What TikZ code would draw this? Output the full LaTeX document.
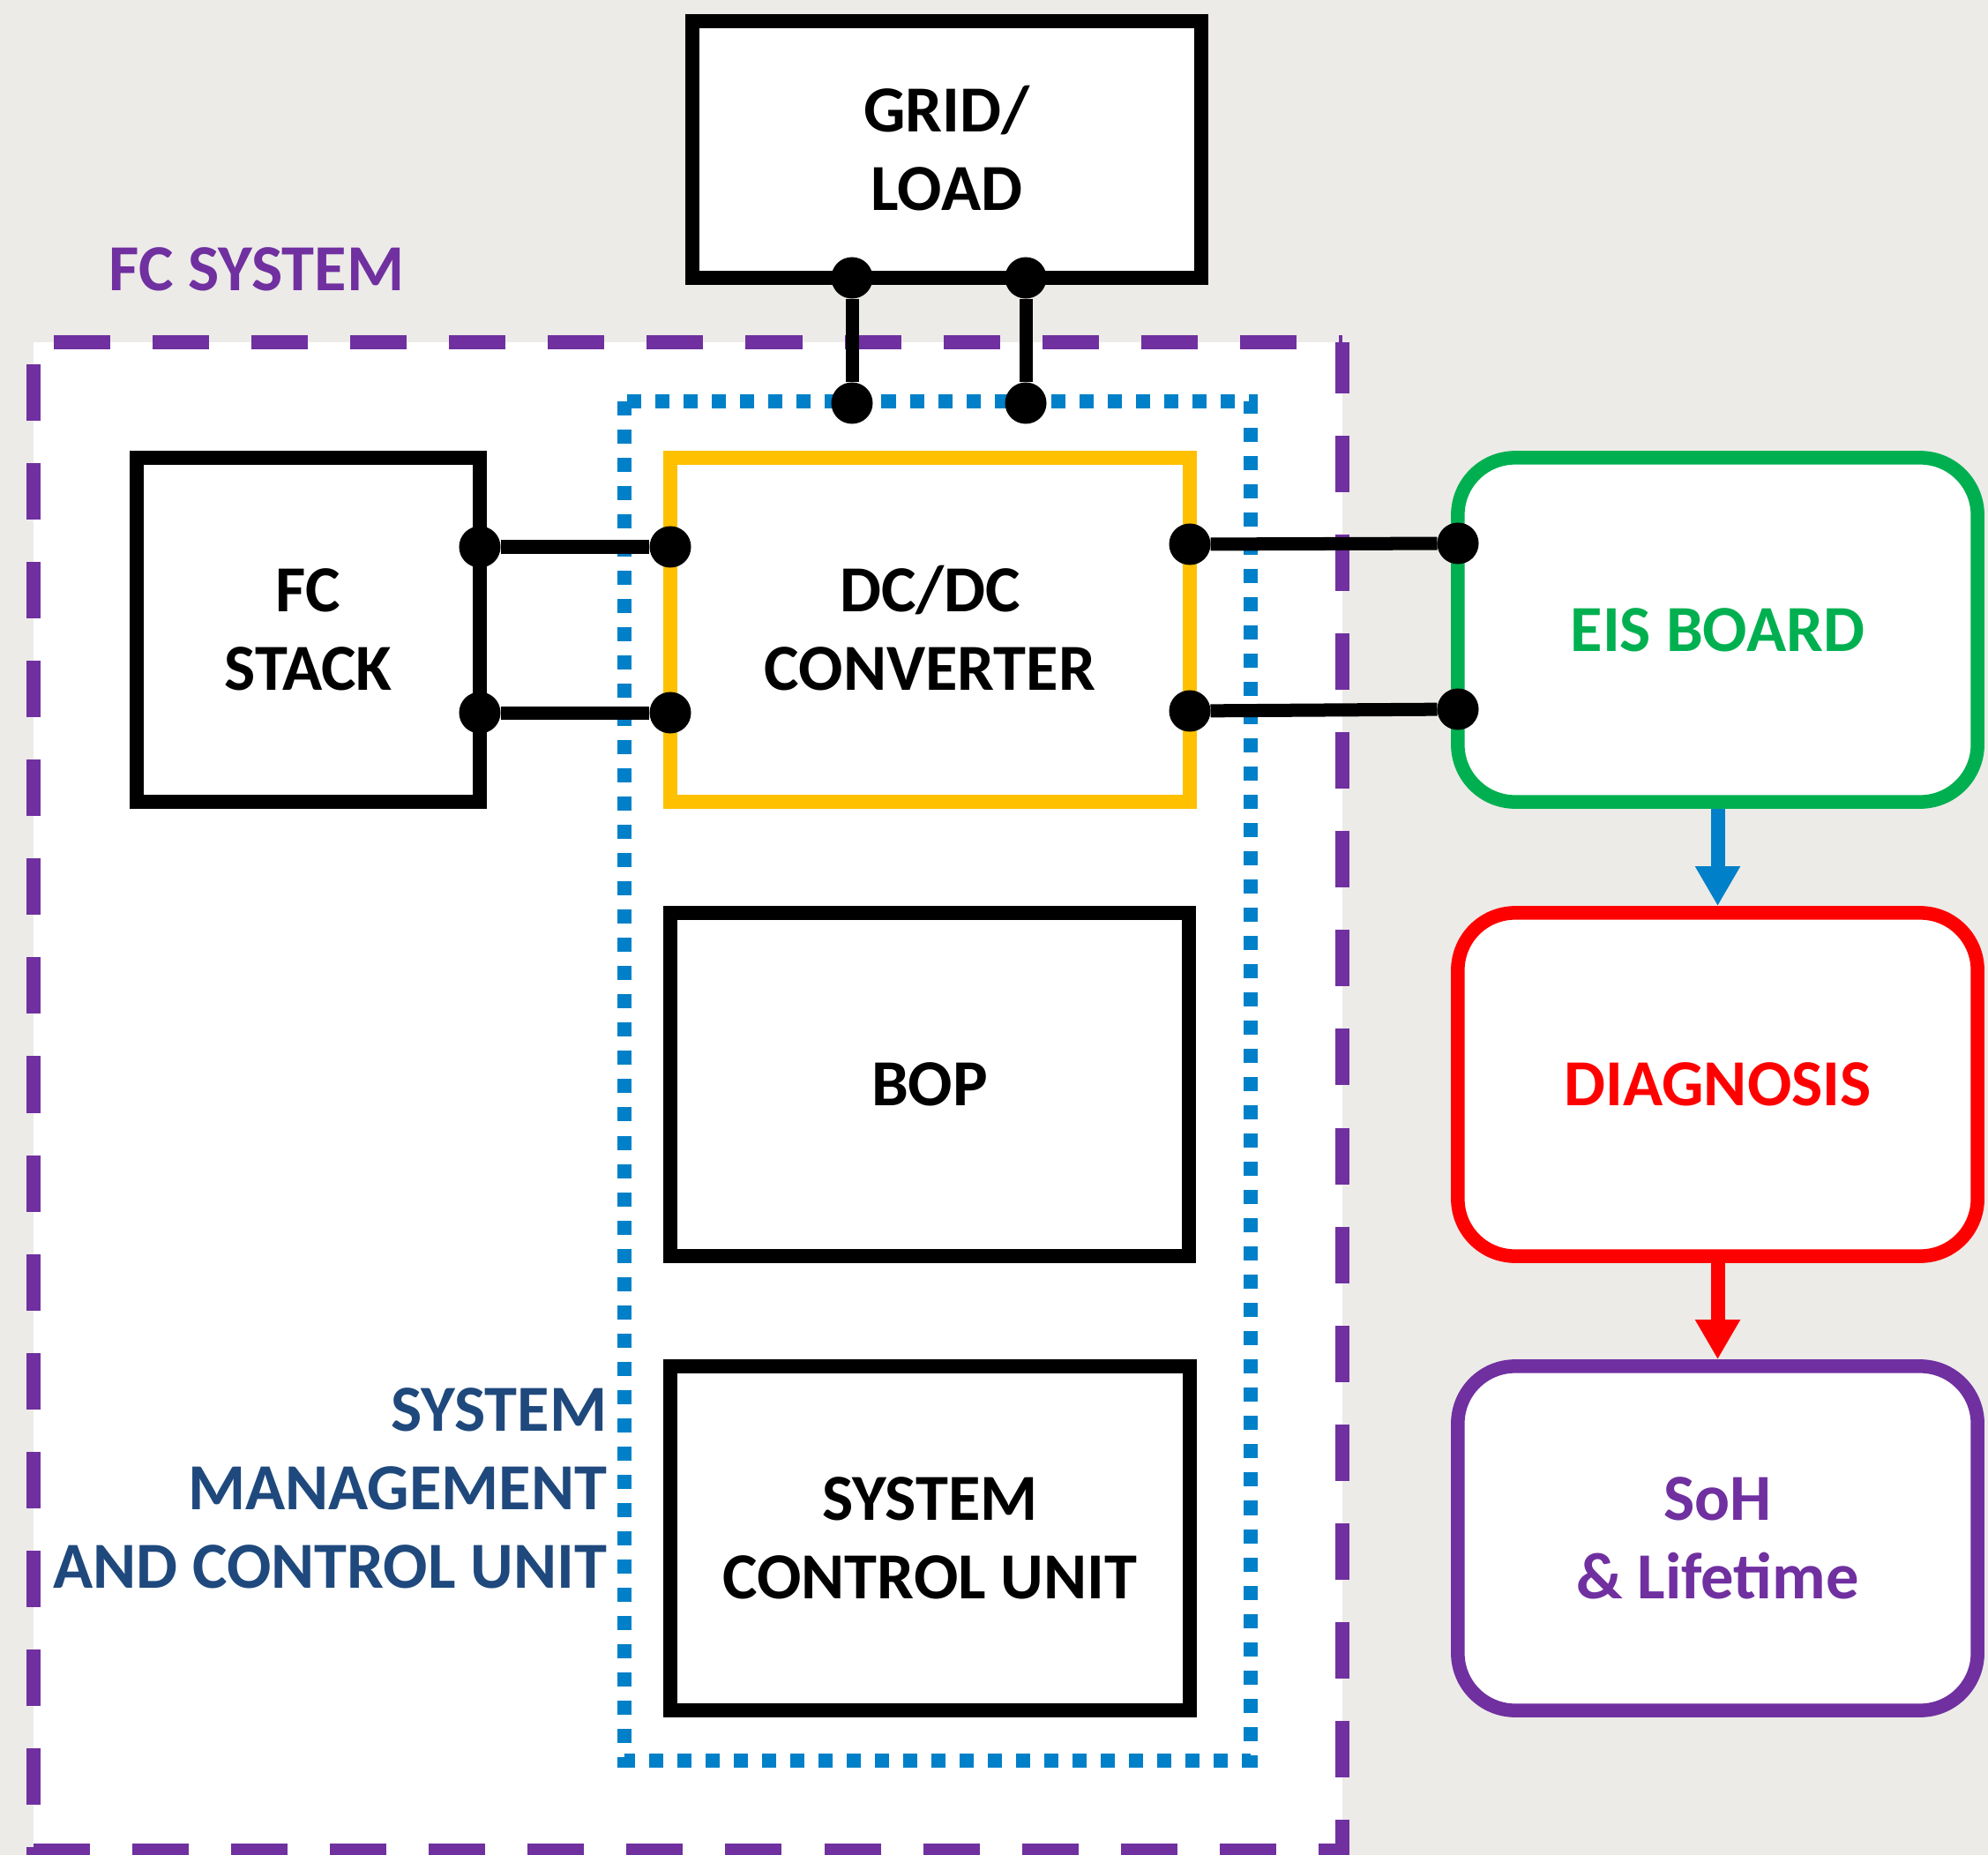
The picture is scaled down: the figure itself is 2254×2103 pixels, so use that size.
\documentclass[tikz,border=0pt]{standalone}
\usepackage{fontspec}
\setmainfont{Carlito}
\usetikzlibrary{arrows.meta}

\definecolor{pagegray}{RGB}{236,235,232}
\definecolor{fcpurple}{RGB}{112,48,160}
\definecolor{ctrlblue}{RGB}{0,128,200}
\definecolor{labelblue}{RGB}{31,73,125}
\definecolor{eisgreen}{RGB}{0,176,80}
\definecolor{dcyellow}{RGB}{255,192,0}
\definecolor{diagred}{RGB}{255,0,0}

\tikzset{
  boxtext/.style={font=\fontsize{21.2}{25.3}\selectfont\bfseries, align=center},
  block/.style={boxtext, draw=black, fill=white, line width=0.155cm, inner sep=0pt},
  roundblock/.style={block, rounded corners=0.65cm},
  terminal/.style={circle, fill=black, minimum size=0.47cm, inner sep=0pt, outer sep=0pt},
  wire/.style={line width=0.15cm, draw=black},
  flow/.style={line width=0.16cm, -{Triangle[width=0.48cm,length=0.45cm]}},
  fcborder/.style={draw=fcpurple, line width=0.155cm, dash pattern=on 0.64cm off 0.48cm},
  ctrlborder/.style={draw=ctrlblue, line width=0.16cm, dash pattern=on 0.16cm off 0.16cm},
}

\begin{document}
\begin{tikzpicture}[x=0.01cm, y=-0.01cm]
\useasboundingbox (0,0) rectangle (2254,2103);
\fill[pagegray] (0,0) rectangle (2254,2103);

% fuel cell system area
\fill[white] (38,388) rectangle (1522,2103);
\draw[fcborder, dash phase=0.89cm] (38,388) -- (1522,388);
\draw[fcborder, dash phase=0.06cm] (1522,388) -- (1522,2103);
\draw[fcborder, dash phase=0.87cm] (38,388) -- (38,2103);
\draw[fcborder] (38,2098) -- (1522,2098);
\node[boxtext, text=fcpurple, anchor=base west, inner sep=0pt] (fclabel) at (123,330) {FC SYSTEM};

% system management and control unit
\draw[ctrlborder] (708,455) rectangle (1418,1996);
\node[boxtext, align=right, text=labelblue, anchor=east, inner sep=0pt] (smculabel) at (689,1687)
  {SYSTEM\\MANAGEMENT\\AND CONTROL UNIT};

% blocks
\node[block, minimum width=5.77cm, minimum height=2.91cm] (grid) at (1073.5,169.5) {GRID\smash{/}\\LOAD};
\node[block, minimum width=3.89cm, minimum height=3.90cm] (stack) at (349.5,714) {FC\\STACK};
\node[block, draw=dcyellow, minimum width=5.89cm, minimum height=3.90cm] (dcdc) at (1054.5,714) {DC\smash{/}DC\\CONVERTER};
\node[block, minimum width=5.88cm, minimum height=3.89cm] (bop) at (1054,1229.5) {BOP};
\node[block, minimum width=5.89cm, minimum height=3.90cm] (scu) at (1054.5,1744) {SYSTEM\\CONTROL UNIT};

\node[roundblock, draw=eisgreen, text=eisgreen, minimum width=5.89cm, minimum height=3.90cm] (eis) at (1947.5,714) {EIS BOARD};
\node[roundblock, draw=diagred, text=diagred, minimum width=5.89cm, minimum height=3.89cm] (diag) at (1947.5,1229.5) {DIAGNOSIS};
\node[roundblock, draw=fcpurple, text=fcpurple, minimum width=5.89cm, minimum height=3.90cm] (soh) at (1947.5,1744) {SoH\\\& Lifetime};

% terminals
\node[terminal] (g1) at (966,315) {};
\node[terminal] (g2) at (1163,315) {};
\node[terminal] (c1) at (966,457) {};
\node[terminal] (c2) at (1163,457) {};
\node[terminal] (s1) at (544,620) {};
\node[terminal] (s2) at (544,808) {};
\node[terminal] (d1) at (760,620) {};
\node[terminal] (d2) at (760,808) {};
\node[terminal] (d3) at (1349,617) {};
\node[terminal] (d4) at (1349,806) {};
\node[terminal] (e1) at (1653,616) {};
\node[terminal] (e2) at (1653,804) {};

% wiring
\draw[wire] (g1) -- (c1);
\draw[wire] (g2) -- (c2);
\draw[wire] (s1) -- (d1);
\draw[wire] (s2) -- (d2);
\draw[wire] (d3) -- (e1);
\draw[wire] (d4) -- (e2);

% signal flow
\draw[flow, draw=ctrlblue, fill=ctrlblue] (eis.south) -- (diag.north);
\draw[flow, draw=diagred, fill=diagred] (diag.south) -- (soh.north);
\end{tikzpicture}
\end{document}
